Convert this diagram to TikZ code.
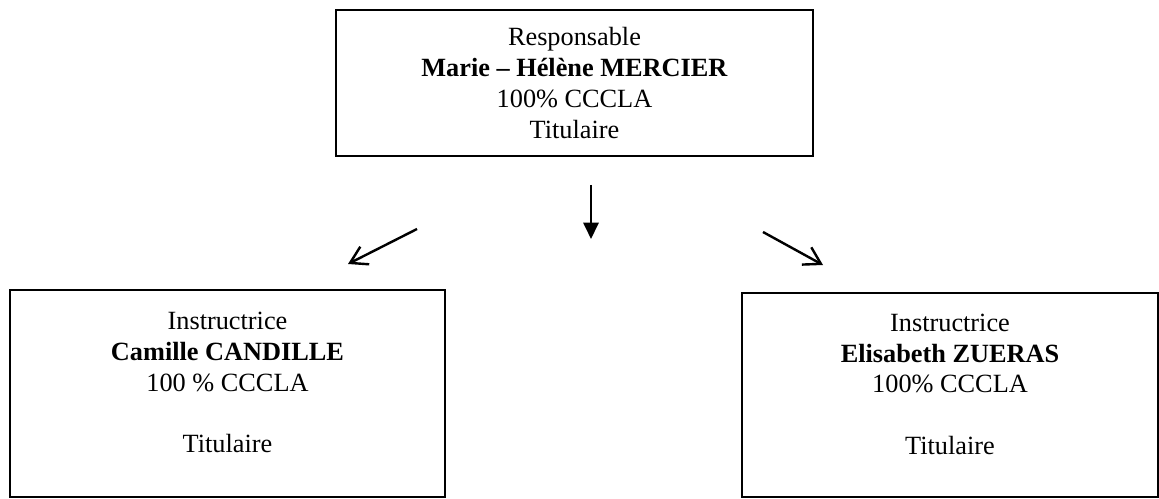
\documentclass[tikz,border=0pt]{standalone}
\usepackage{fontspec}
\setmainfont{Liberation Serif}
\usetikzlibrary{arrows.meta}

\begin{document}
\begin{tikzpicture}[x=0.4563pt,y=-0.4563pt,line width=0.9pt,
    box/.style={draw,rectangle,align=center,inner sep=0pt,font=\fontsize{12}{14}\selectfont},
    barb/.style={line width=1.1pt,-{Straight Barb[length=7.5pt,width=9pt]}},
    tri/.style={line width=1pt,-{Triangle[length=7.5pt,width=7pt]}}]
        \useasboundingbox (0,0) rectangle (1159,499);
        \node[box,minimum width=217.7pt,minimum height=66.6pt] (resp) at (574.5,83) {Responsable\\\textbf{Marie -- Hélène MERCIER}\\100\% CCCLA\\Titulaire};
         \node[box,minimum width=198.5pt,minimum height=94.5pt,text depth=10pt] (camille) at (227.5,393.5) {Instructrice\\\textbf{Camille CANDILLE}\\100 \% CCCLA\\[14pt]Titulaire};
         \node[box,minimum width=189.8pt,minimum height=93.1pt,text depth=10pt] (elisabeth) at (950,395) {Instructrice\\\textbf{Elisabeth ZUERAS}\\100\% CCCLA\\[14pt]Titulaire};
         \coordinate (l1) at (417,229); \coordinate (l2) at (348,264);
         \coordinate (m1) at (591,185); \coordinate (m2) at (591,239);
         \coordinate (r1) at (763,232); \coordinate (r2) at (823,265);
         \draw[barb] (l1) to (l2);
         \draw[tri] (m1) to (m2);
        \draw[barb] (r1) to (r2);
      \end{tikzpicture}
\end{document}
